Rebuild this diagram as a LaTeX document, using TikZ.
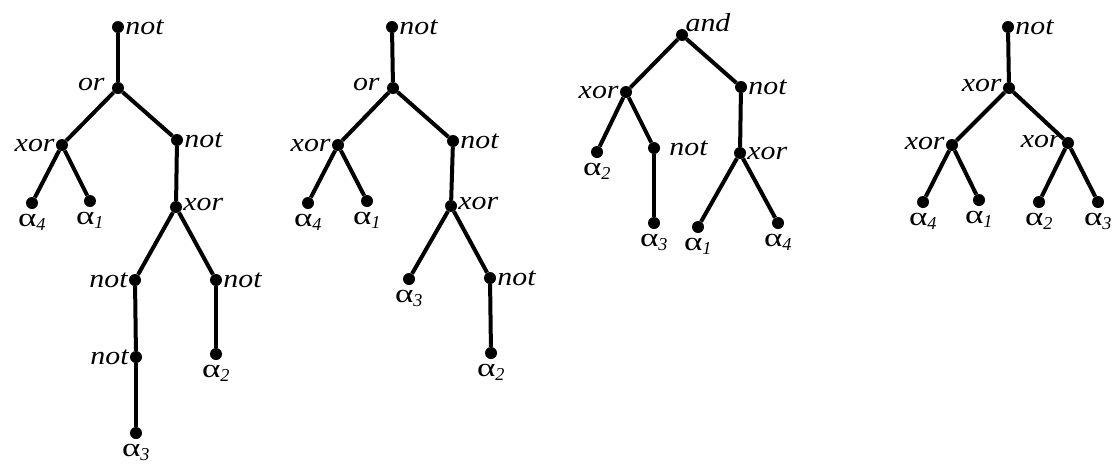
\documentclass[tikz,border=0pt]{standalone}
\usepackage{fontspec}
\setmainfont{Liberation Serif}
\usetikzlibrary{positioning}
\tikzset{
    x=1pt, y=-1pt,
    % Shapes
    dot/.style={circle, fill=black, inner sep=0pt, minimum size=12pt},
    edge/.style={line width=4pt, black},
    % Labels
    lbl/.style={font=\fontsize{26}{28}\selectfont, inner sep=1pt},
    leaf/.style={font=\fontsize{26}{28}\selectfont, inner sep=0pt, label distance=5pt}
}
\newcommand{\op}[1]{\scalebox{1.15}[1]{\itshape #1}}
\newcommand{\al}[1]{\scalebox{1.35}[1]{α}\textsubscript{\itshape #1}}

\begin{document}
\begin{tikzpicture}[label distance=0pt]
\useasboundingbox (0,0) rectangle (1117,464);

% first tree
\node[dot, label={[lbl]right:\op{not}}] (ta) at (118,27) {};
\node[dot, label={[lbl, xshift=-6pt, yshift=4pt]left:\op{or}}] (tb) at (118,88) {};
\node[dot, label={[lbl]left:\op{xor}}] (tc) at (62,145) {};
\node[dot, label={[lbl]right:\op{not}}] (td) at (177,140) {};
\node[dot, label={[leaf]below:\al{4}}] (te) at (32,203) {};
\node[dot, label={[leaf]below:\al{1}}] (tf) at (90,201) {};
\node[dot, label={[lbl, yshift=3pt]right:\op{xor}}] (tg) at (176,207) {};
\node[dot, label={[lbl]left:\op{not}}] (th) at (135,280) {};
\node[dot, label={[lbl]right:\op{not}}] (ti) at (216,280) {};
\node[dot, label={[lbl]left:\op{not}}] (tj) at (136,357) {};
\node[dot, label={[leaf]below:\al{2}}] (tk) at (216,354) {};
\node[dot, label={[leaf]below:\al{3}}] (tl) at (136,433) {};

\foreach \a/\b in {ta/tb, tb/tc, tb/td, tc/te, tc/tf, td/tg, tg/th, tg/ti, th/tj, tj/tl, ti/tk}
    \draw[edge] (\a) -- (\b);

% second tree
\node[dot, label={[lbl]right:\op{not}}] (sa) at (392,27) {};
\node[dot, label={[lbl, xshift=-6pt, yshift=4pt]left:\op{or}}] (sb) at (393,88) {};
\node[dot, label={[lbl]left:\op{xor}}] (sc) at (338,145) {};
\node[dot, label={[lbl]right:\op{not}}] (sd) at (453,141) {};
\node[dot, label={[leaf]below:\al{4}}] (se) at (308,203) {};
\node[dot, label={[leaf]below:\al{1}}] (sf) at (367,201) {};
\node[dot, label={[lbl, yshift=3pt]right:\op{xor}}] (sg) at (451,206) {};
\node[dot, label={[leaf]below:\al{3}}] (sh) at (409,279) {};
\node[dot, label={[lbl]right:\op{not}}] (si) at (490,278) {};
\node[dot, label={[leaf]below:\al{2}}] (sj) at (491,353) {};

\foreach \a/\b in {sa/sb, sb/sc, sb/sd, sc/se, sc/sf, sd/sg, sg/sh, sg/si, si/sj}
    \draw[edge] (\a) -- (\b);

% third tree
\node[dot, label={[lbl, xshift=-2pt, yshift=-2pt]above right:\op{and}}] (ra) at (682,35) {};
\node[dot, label={[lbl]left:\op{xor}}] (rb) at (626,92) {};
\node[dot, label={[lbl]right:\op{not}}] (rc) at (741,87) {};
\node[dot, label={[leaf]below:\al{2}}] (rd) at (597,152) {};
\node[dot, label={[lbl, label distance=8pt]right:\op{not}}] (re) at (654,148) {};
\node[dot, label={[lbl]right:\op{xor}}] (rf) at (740,153) {};
\node[dot, label={[leaf]below:\al{3}}] (rg) at (654,223) {};
\node[dot, label={[leaf]below:\al{1}}] (rh) at (698,227) {};
\node[dot, label={[leaf]below:\al{4}}] (ri) at (778,223) {};

\foreach \a/\b in {ra/rb, ra/rc, rb/rd, rb/re, rc/rf, re/rg, rf/rh, rf/ri}
    \draw[edge] (\a) -- (\b);

% fourth tree
\node[dot, label={[lbl]right:\op{not}}] (qa) at (1008,27) {};
\node[dot, label={[lbl, yshift=3pt]left:\op{xor}}] (qb) at (1009,88) {};
\node[dot, label={[lbl, yshift=2pt]left:\op{xor}}] (qc) at (952,145) {};
\node[dot, label={[lbl, yshift=2pt]left:\op{xor}}] (qd) at (1068,143) {};
\node[dot, label={[leaf]below:\al{4}}] (qe) at (923,202) {};
\node[dot, label={[leaf]below:\al{1}}] (qf) at (979,200) {};
\node[dot, label={[leaf]below:\al{2}}] (qg) at (1039,202) {};
\node[dot, label={[leaf]below:\al{3}}] (qh) at (1098,202) {};

\foreach \a/\b in {qa/qb, qb/qc, qb/qd, qc/qe, qc/qf, qd/qg, qd/qh}
    \draw[edge] (\a) -- (\b);

\end{tikzpicture}
\end{document}
